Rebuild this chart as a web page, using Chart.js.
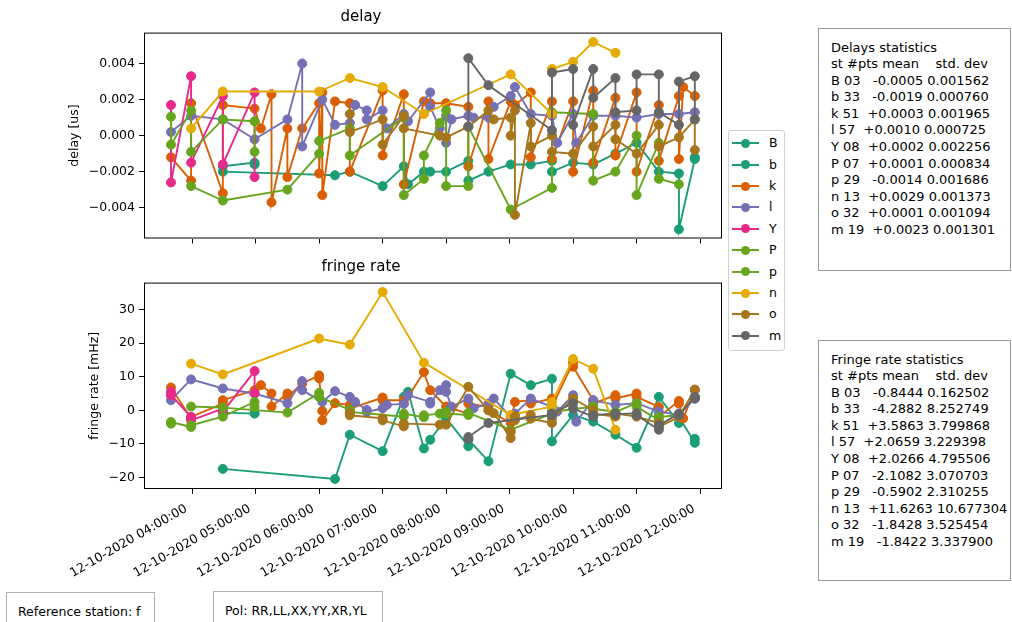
<!DOCTYPE html>
<html>
<head>
<meta charset="utf-8">
<script src="https://cdn.jsdelivr.net/npm/chart.js@4.4.0/dist/chart.umd.min.js"></script>
<style>
  body { margin:0; width:1012px; height:622px; overflow:hidden; background:#fff; position:relative;
         font-family:'DejaVu Sans', sans-serif; color:#000; }
  canvas { position:absolute; left:0; }
  #c1 { top:0; }
  #c2 { top:250px; }
  .stat { position:absolute; left:818px; width:193px; border:1px solid #9a9a9a; box-sizing:border-box;
          font-size:13px; line-height:16.6px; white-space:pre; padding:10.5px 0 0 12px; background:#fff; }
  .note { position:absolute; border:1px solid #b0b0b0; box-sizing:border-box; font-size:12.5px;
          white-space:pre; padding:11px 0 0 11px; background:#fff; height:50px; }
  #legend { position:absolute; left:728px; top:130px; width:57px; height:221px; border:1px solid #d0d0d0;
            border-radius:3px; box-sizing:border-box; background:#fff; }
  .lrow { position:absolute; left:0; width:56px; height:20px; }
  .lline { position:absolute; left:3px; width:27px; height:2px; top:9px; }
  .ldot { position:absolute; left:12px; width:9px; height:9px; border-radius:50%; top:5.5px; }
  .ltxt { position:absolute; left:40px; top:2px; font-size:12.5px; }
</style>
</head>
<body>
<canvas id="c1" width="730" height="250"></canvas>
<canvas id="c2" width="730" height="372"></canvas>
<div id="legend"></div>
<div class="stat" id="s1" style="top:28px;height:243px;"></div>
<div class="stat" id="s2" style="top:340px;height:241px;"></div>
<div class="note" style="left:6px;top:592px;width:149px;">Reference station: f</div>
<div class="note" style="left:213px;top:591px;width:170px;">Pol: RR,LL,XX,YY,XR,YL</div>
<script>
// ---------------- data ----------------
const stations = ['B','b','k','l','Y','P','p','n','o','m'];

const time_B  = ['04:29','04:59','04:59'];
const delay_B = [-0.0017,-0.0015,-0.0016];
const rate_B  = [-0.7,-1.0,-0.85];

const time_b  = ['04:29','06:15','06:29','07:00','07:20','07:24','07:39','07:45','08:00','08:21','08:21','08:40','09:01','09:20','09:40','09:40','10:00','10:19','10:40','11:00','11:21','11:40','11:40','11:55','11:55'];
const delay_b = [-0.0020,-0.0022,-0.0020,-0.0028,-0.0017,-0.0027,-0.0020,-0.0020,-0.0020,-0.0014,-0.0025,-0.0020,-0.0016,-0.0016,-0.0014,-0.0020,-0.0015,-0.0016,-0.0010,-0.0004,-0.0020,-0.0021,-0.0052,-0.0013,-0.0012];
const rate_b  = [-17.5,-20.5,-7.3,-12.2,4.0,5.5,-11.4,-8.8,-2.4,-10.7,-8.8,-15.2,10.9,7.5,9.4,-9.3,-1.4,-3.4,-7.3,-11.2,4.0,-3.8,-2.0,-9.7,-8.5];

const time_k  = ['03:40','03:59','03:59','04:29','04:29','04:59','05:05','05:15','05:15','05:30','05:30','05:44','06:00','06:00','06:03','06:03','06:15','06:29','06:29','07:00','07:00','07:20','07:20','07:39','07:45','08:00','08:21','08:21','08:40','08:40','09:01','09:05','09:20','09:20','09:40','09:40','10:00','10:00','10:19','10:19','10:40','10:40','11:00','11:00','11:21','11:21','11:40','11:40','11:44','11:55'];
const delay_k = [-0.0012,-0.0025,0.0018,-0.0032,0.0017,0.0015,0.0004,0.0023,-0.0037,0.0004,-0.0023,0.0004,0.0018,-0.0021,0.0024,-0.0033,0.0019,0.0018,-0.0020,0.0025,-0.0011,0.0023,-0.0027,0.0019,0.0018,0.0018,0.0016,-0.0017,0.0019,-0.0013,0.0019,0.0017,0.0024,-0.0012,0.0019,-0.0013,0.0019,-0.0020,0.0025,-0.0015,0.0021,-0.0011,0.0024,-0.0020,0.0017,-0.0014,0.0022,-0.0013,0.0027,0.0022];
const rate_k  = [6.8,-2.5,-2.0,2.0,3.0,6.0,7.5,5.0,1.1,5.0,4.0,8.0,10.4,9.5,-0.2,-3.0,2.1,1.6,0.5,3.8,3.0,3.0,2.0,11.4,6.0,1.1,-1.0,2.0,1.0,0.0,-3.8,2.5,3.0,2.0,3.5,1.0,14.3,13.0,3.0,2.0,4.5,3.5,5.0,4.0,1.0,-2.0,2.8,2.0,-2.4,6.0];

const time_l  = ['03:40','03:59','04:29','04:59','05:30','05:44','05:44','06:03','06:15','06:29','06:34','06:45','06:45','07:00','07:04','07:20','07:24','07:45','07:45','07:54','08:00','08:00','08:05','08:21','08:26','08:40','08:45','09:01','09:05','09:20','09:40','09:45','10:00','10:03','10:19','10:40','11:00','11:21','11:40','11:55'];
const delay_l = [0.0002,0.0011,0.0009,-0.0002,0.0009,0.0040,-0.0006,0.0020,0.0006,0.0007,0.0017,0.0014,0.0009,0.0014,0.0004,0.0012,0.0008,0.0024,0.0016,0.0004,0.0011,-0.0004,0.0009,0.0011,0.0010,0.0010,0.0016,0.0022,0.0027,0.0012,0.0011,-0.0004,0.0012,-0.0004,0.0011,0.0011,0.0010,0.0012,0.0012,0.0013];
const rate_l  = [3.0,9.2,6.5,5.0,2.1,8.7,6.0,2.5,5.7,4.0,2.5,0.1,-0.5,0.6,1.6,1.9,4.5,2.5,2.0,6.0,7.5,5.5,1.1,3.5,0.6,2.0,3.5,-2.0,-1.0,3.5,1.0,-0.4,4.5,-3.4,3.0,1.6,2.1,-0.4,-1.4,3.5];

const time_Y  = ['03:40','03:40','03:59','03:59','04:29','04:29','04:59','04:59'];
const delay_Y = [0.0017,-0.0026,0.0033,-0.0015,0.0022,-0.0016,0.0024,-0.0023];
const rate_Y  = [5.5,4.5,-2.0,-3.0,0.5,-0.5,11.7,5.0];

const time_P  = ['03:40','03:40','03:59','03:59','04:29','04:59','04:59'];
const delay_P = [0.00105,-0.0005,0.0014,-0.0009,0.0009,0.0008,-0.0009];
const rate_P  = [-4.0,-3.5,-5.0,-4.5,-1.9,2.5,1.0];

const time_p  = ['03:59','04:29','05:30','06:00','06:00','06:29','06:29','07:20','07:20','07:39','07:39','07:54','08:00','08:00','08:21','08:21','09:01','09:40','09:40','10:19','10:19','10:40','11:00','11:00','11:21','11:21','11:40'];
const delay_p = [-0.0028,-0.0036,-0.0030,-0.0010,-0.0003,0.0004,-0.0011,0.0010,-0.0033,-0.0024,-0.0011,0.0007,0.0014,-0.0028,-0.0028,0.0005,-0.0041,-0.0029,0.0013,0.0012,-0.0025,-0.0020,0.0000,-0.0033,-0.0004,-0.0024,-0.0027];
const rate_p  = [1.1,0.8,-0.7,5.2,4.0,0.1,-0.5,-1.9,-1.0,-2.1,-1.5,-1.0,-0.4,-1.0,-1.4,-0.8,-5.8,-1.0,-0.5,1.1,0.5,-0.5,2.1,1.0,-2.9,-2.0,-1.5];

const time_n  = ['03:59','04:29','06:00','06:29','07:00','07:39','09:01','09:40','09:40','10:00','10:19','10:40'];
const delay_n = [0.0004,0.00245,0.00245,0.0032,0.0027,0.0012,0.0034,0.0012,0.0037,0.0041,0.0052,0.0046];
const rate_n  = [13.9,10.7,21.4,19.6,35.3,14.2,-1.4,1.1,2.5,15.3,12.4,-5.8];

const time_o  = ['06:29','06:29','07:00','07:00','07:20','07:20','07:54','08:00','08:21','08:40','08:45','09:01','09:01','09:05','09:05','09:20','09:20','09:40','09:40','10:00','10:19','10:19','10:40','10:40','11:00','11:21','11:21','11:40','11:55','11:55'];
const delay_o = [0.0012,0.0002,0.0009,-0.0005,0.0011,0.0004,0.0000,-0.0001,0.0005,0.0014,0.0009,0.0010,0.0000,0.0014,-0.0044,0.0007,-0.0006,0.0000,-0.0009,-0.0010,0.0005,-0.0006,0.0006,-0.0002,-0.0010,0.0006,-0.0006,-0.0001,0.0009,-0.0008];
const rate_o  = [-0.9,-1.5,-2.4,-3.0,-4.8,-4.0,-4.3,-4.3,7.0,0.0,-0.9,-8.3,-6.5,-1.9,-3.0,-1.4,-2.5,-3.8,-2.5,3.5,0.0,-1.0,-1.9,-1.0,-1.9,-3.8,-5.0,-2.0,6.2,4.0];

const time_m  = ['08:21','08:21','08:40','09:40','09:40','10:00','10:00','10:19','10:19','10:40','10:40','11:00','11:00','11:21','11:21','11:40','11:40','11:55','11:55'];
const delay_m = [0.0005,0.0043,0.0028,0.0003,0.0035,0.0037,0.0006,0.0037,0.0021,0.0032,0.0013,0.0014,0.0034,0.0034,0.0013,0.0006,0.0030,0.0033,0.0009];
const rate_m  = [-8.6,-8.0,-3.8,-1.4,-1.0,2.1,0.5,-1.9,-1.5,-0.9,-1.2,-0.9,-1.5,-5.8,-4.5,-1.0,-1.4,4.0,3.5];

const xTickHours  = [4,5,6,7,8,9,10,11,12];
const xTickLabels = ['12-10-2020 04:00:00','12-10-2020 05:00:00','12-10-2020 06:00:00','12-10-2020 07:00:00','12-10-2020 08:00:00','12-10-2020 09:00:00','12-10-2020 10:00:00','12-10-2020 11:00:00','12-10-2020 12:00:00'];
const delayTicks = [-0.004,-0.002,0,0.002,0.004];
const rateTicks  = [-20,-10,0,10,20,30];

const delayStats = ['Delays statistics','st #pts mean    std. dev',
  'B 03   -0.0005 0.001562','b 33   -0.0019 0.000760','k 51  +0.0003 0.001965','l 57  +0.0010 0.000725',
  'Y 08  +0.0002 0.002256','P 07  +0.0001 0.000834','p 29   -0.0014 0.001686','n 13  +0.0029 0.001373',
  'o 32  +0.0001 0.001094','m 19  +0.0023 0.001301'];
const rateStats = ['Fringe rate statistics','st #pts mean    std. dev',
  'B 03   -0.8444 0.162502','b 33   -4.2882 8.252749','k 51  +3.5863 3.799868','l 57  +2.0659 3.229398',
  'Y 08  +2.0266 4.795506','P 07   -2.1082 3.070703','p 29   -0.5902 2.310255','n 13  +11.6263 10.677304',
  'o 32   -1.8428 3.525454','m 19   -1.8422 3.337900'];

// ---------------- styling ----------------
const colors = ['#1b9e77','#1b9e77','#d95f02','#7570b3','#e7298a','#66a61e','#66a61e','#e6ab02','#a6761d','#666666'];
const TIMES  = [time_B,time_b,time_k,time_l,time_Y,time_P,time_p,time_n,time_o,time_m];
const DELAYS = [delay_B,delay_b,delay_k,delay_l,delay_Y,delay_P,delay_p,delay_n,delay_o,delay_m];
const RATES  = [rate_B,rate_b,rate_k,rate_l,rate_Y,rate_P,rate_p,rate_n,rate_o,rate_m];

const toHours = s => { const [h,m] = s.split(':').map(Number); return h + m/60; };
const minus = s => s.replace('-', '\u2212');

Chart.defaults.font.family = "'DejaVu Sans', sans-serif";
Chart.defaults.color = '#000';

const frame = {
  id: 'frame',
  afterDraw(chart) {
    const {ctx, chartArea: a} = chart;
    ctx.save();
    ctx.strokeStyle = '#000';
    ctx.lineWidth = 1;
    ctx.strokeRect(a.left + 0.5, a.top + 0.5, a.right - a.left - 1, a.bottom - a.top - 1);
    ctx.restore();
  }
};

function datasets(values) {
  return stations.map((st, i) => ({
    label: st,
    data: TIMES[i].map((t, j) => ({x: toHours(t), y: values[i][j]})),
    showLine: true,
    borderColor: colors[i],
    backgroundColor: colors[i],
    pointBackgroundColor: colors[i],
    pointBorderColor: colors[i],
    pointRadius: 4.5,
    pointBorderWidth: 1,
    borderWidth: 1.9,
    tension: 0,
    order: stations.length - i
  }));
}

function options(isTop) {
  return {
    responsive: false, animation: false, events: [],
    layout: {padding: {left: 0, right: 8, top: 0, bottom: 0}},
    plugins: {
      legend: {display: false}, tooltip: {enabled: false},
      title: {display: true, text: isTop ? 'delay' : 'fringe rate', color: '#000',
              font: {size: 15, weight: 'normal'}, padding: {top: 8, bottom: 6.6}}
    },
    scales: {
      x: {
        type: 'linear', min: 3.2416, max: 12.345,
        afterBuildTicks: a => { a.ticks = xTickHours.map(v => ({value: v})); },
        afterFit: s => { s.height = isTop ? 11 : 133; },
        grid: {display: true, drawOnChartArea: false, drawTicks: true, tickLength: 5, color: '#000', lineWidth: 1},
        border: {display: false},
        ticks: {display: !isTop, autoSkip: false, minRotation: 30, maxRotation: 30, padding: 7.5, labelOffset: -6,
                font: {size: 12.5}, color: '#000',
                callback: v => xTickLabels[xTickHours.indexOf(Math.round(v))]}
      },
      y: {
        type: 'linear',
        min: isTop ? -0.00571 : -23.5, max: isTop ? 0.00572 : 38.1,
        afterBuildTicks: a => { a.ticks = (isTop ? delayTicks : rateTicks).map(v => ({value: v})); },
        afterFit: s => { s.width = 144; },
        grid: {display: true, drawOnChartArea: false, drawTicks: true, tickLength: 5, color: '#000', lineWidth: 1},
        border: {display: false},
        ticks: {padding: 4, font: {size: 12.5}, color: '#000',
                callback: v => isTop ? minus(v.toFixed(3)) : minus(String(Math.round(v)))},
        title: {display: true, text: isTop ? 'delay [us]' : 'fringe rate [mHz]', color: '#000',
                font: {size: 12.5}, padding: {top: isTop ? 67.5 : 87.5, bottom: 0}}
      }
    }
  };
}

new Chart(document.getElementById('c1'), {type: 'scatter', data: {datasets: datasets(DELAYS)}, options: options(true), plugins: [frame]});
new Chart(document.getElementById('c2'), {type: 'scatter', data: {datasets: datasets(RATES)}, options: options(false), plugins: [frame]});

// legend
const leg = document.getElementById('legend');
stations.forEach((st, i) => {
  const r = document.createElement('div');
  r.className = 'lrow';
  r.style.top = (2.2 + 21.4 * i) + 'px';
  r.innerHTML = `<div class="lline" style="background:${colors[i]}"></div><div class="ldot" style="background:${colors[i]}"></div><div class="ltxt">${st}</div>`;
  leg.appendChild(r);
});
document.getElementById('s1').textContent = delayStats.join('\n');
document.getElementById('s2').textContent = rateStats.join('\n');
</script>
</body>
</html>
